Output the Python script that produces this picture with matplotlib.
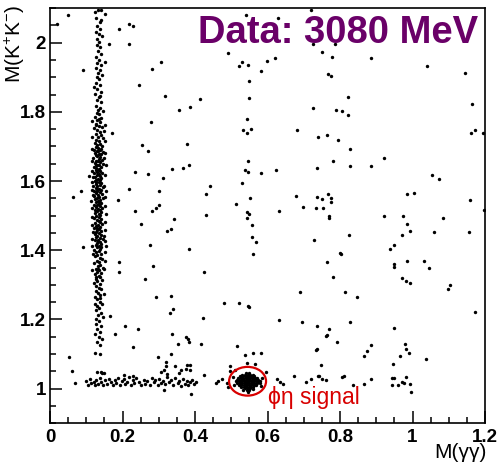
import matplotlib
matplotlib.use("Agg")
import matplotlib.pyplot as plt
from matplotlib.patches import Ellipse
from matplotlib.ticker import MultipleLocator

plt.rcParams['font.family'] = ['Liberation Sans', 'DejaVu Sans']
plt.rcParams['mathtext.fontset'] = 'custom'
plt.rcParams['mathtext.rm'] = 'Liberation Sans'
plt.rcParams['mathtext.it'] = 'Liberation Sans:italic'

# %% data: (M(gg), M(KK)) pairs
# pi0 band
pi0_band = [
    (0.133,2.095),(0.140,2.094),(0.128,2.072),(0.141,2.066),(0.137,2.060),(0.131,2.048),(0.139,2.040),
    (0.127,2.032),(0.134,2.025),(0.144,2.018),(0.130,2.009),(0.136,2.003),(0.152,2.082),(0.125,2.088),
    (0.129,1.994),(0.138,1.987),(0.133,1.975),(0.142,1.968),(0.127,1.958),(0.135,1.951),(0.131,1.942),
    (0.140,1.936),(0.126,1.928),(0.137,1.921),(0.132,1.913),(0.144,1.907),(0.129,1.902),(0.151,1.945),
    (0.134,1.896),(0.128,1.884),(0.139,1.877),(0.131,1.866),(0.142,1.858),(0.125,1.851),(0.136,1.843),
    (0.130,1.834),(0.141,1.827),(0.127,1.818),(0.137,1.812),(0.133,1.805),(0.145,1.801),(0.122,1.872),
    (0.138,1.847),
    (0.129,1.797),(0.136,1.793),(0.124,1.786),(0.141,1.781),(0.131,1.775),(0.138,1.771),(0.127,1.766),
    (0.134,1.760),(0.143,1.756),(0.121,1.752),(0.130,1.747),(0.137,1.742),(0.126,1.737),(0.140,1.733),
    (0.133,1.728),(0.146,1.724),(0.128,1.719),(0.135,1.715),(0.123,1.711),(0.139,1.708),(0.131,1.704),
    (0.144,1.701),(0.127,1.762),(0.135,1.779),(0.150,1.745),
    (0.126,1.698),(0.133,1.696),(0.140,1.694),(0.121,1.691),(0.137,1.689),(0.129,1.686),(0.145,1.684),
    (0.124,1.681),(0.134,1.679),(0.141,1.677),(0.127,1.674),(0.131,1.672),(0.138,1.669),(0.119,1.667),
    (0.135,1.664),(0.143,1.662),(0.128,1.659),(0.132,1.657),(0.139,1.654),(0.124,1.652),(0.147,1.650),
    (0.130,1.647),(0.136,1.645),(0.122,1.642),(0.141,1.640),(0.128,1.637),(0.134,1.635),(0.126,1.632),
    (0.139,1.629),(0.131,1.627),(0.144,1.624),(0.120,1.622),(0.135,1.619),(0.129,1.617),(0.138,1.614),
    (0.125,1.612),(0.142,1.609),(0.132,1.607),(0.127,1.604),(0.137,1.602),(0.149,1.668),(0.118,1.611),
    (0.133,1.688),(0.136,1.631),(0.128,1.646),
    (0.123,1.599),(0.134,1.597),(0.141,1.594),(0.128,1.592),(0.137,1.589),(0.119,1.587),(0.131,1.585),
    (0.145,1.582),(0.126,1.580),(0.135,1.577),(0.140,1.575),(0.122,1.572),(0.130,1.570),(0.138,1.567),
    (0.127,1.565),(0.143,1.562),(0.133,1.560),(0.120,1.557),(0.136,1.555),(0.129,1.552),(0.147,1.550),
    (0.124,1.547),(0.139,1.545),(0.132,1.542),(0.126,1.540),(0.142,1.537),(0.135,1.535),(0.121,1.532),
    (0.130,1.530),(0.138,1.527),(0.127,1.525),(0.144,1.522),(0.133,1.520),(0.123,1.517),(0.137,1.515),
    (0.129,1.512),(0.141,1.510),(0.125,1.507),(0.134,1.505),(0.139,1.502),(0.118,1.561),(0.150,1.585),
    (0.131,1.578),(0.136,1.538),(0.128,1.596),
    (0.128,1.498),(0.135,1.495),(0.122,1.492),(0.141,1.489),(0.131,1.486),(0.137,1.483),(0.125,1.480),
    (0.144,1.477),(0.133,1.474),(0.127,1.471),(0.139,1.468),(0.120,1.465),(0.134,1.462),(0.130,1.459),
    (0.142,1.456),(0.126,1.453),(0.136,1.450),(0.123,1.447),(0.140,1.444),(0.131,1.441),(0.128,1.438),
    (0.138,1.435),(0.145,1.432),(0.124,1.429),(0.133,1.426),(0.137,1.423),(0.129,1.420),(0.142,1.417),
    (0.126,1.414),(0.135,1.411),(0.131,1.408),(0.139,1.405),(0.122,1.402),(0.136,1.485),(0.129,1.463),
    (0.148,1.442),(0.132,1.431),(0.140,1.409),
    (0.134,1.398),(0.127,1.394),(0.140,1.390),(0.131,1.386),(0.124,1.382),(0.137,1.378),(0.143,1.374),
    (0.129,1.370),(0.135,1.366),(0.121,1.362),(0.139,1.358),(0.132,1.354),(0.146,1.350),(0.126,1.346),
    (0.136,1.342),(0.130,1.338),(0.141,1.334),(0.124,1.330),(0.134,1.326),(0.138,1.322),(0.128,1.318),
    (0.144,1.314),(0.131,1.310),(0.122,1.306),(0.137,1.302),(0.152,1.369),(0.133,1.347),(0.127,1.323),
    (0.128,1.298),(0.135,1.292),(0.141,1.287),(0.126,1.281),(0.133,1.276),(0.139,1.270),(0.124,1.264),
    (0.131,1.258),(0.137,1.251),(0.143,1.245),(0.129,1.239),(0.135,1.232),(0.126,1.226),(0.140,1.219),
    (0.132,1.213),(0.146,1.207),(0.128,1.201),(0.137,1.262),(0.123,1.245),(0.150,1.273),
    (0.134,1.196),(0.127,1.188),(0.141,1.180),(0.131,1.172),(0.138,1.165),(0.125,1.158),(0.135,1.150),
    (0.143,1.143),(0.129,1.135),(0.137,1.127),(0.124,1.102),(0.138,1.101),
    (0.131,1.049),(0.140,1.048),
    # wider edge of the dense part
    (0.116,1.693),(0.153,1.681),(0.117,1.658),(0.154,1.647),(0.115,1.628),(0.152,1.618),(0.117,1.598),
    (0.155,1.571),(0.116,1.574),(0.153,1.553),(0.114,1.543),(0.151,1.528),(0.117,1.521),(0.154,1.506),
    (0.116,1.496),(0.152,1.481),(0.115,1.472),(0.153,1.458),(0.118,1.452),(0.151,1.427),(0.116,1.433),
    (0.154,1.412),(0.117,1.412),(0.152,1.396),(0.118,1.388),(0.150,1.347),(0.117,1.343),(0.116,1.728),
    (0.153,1.716),(0.115,1.774),(0.152,1.762),
]

# phi band along M(KK) ~ 1.02
phi_band = [
    (0.100,1.022),(0.104,1.012),(0.110,1.028),(0.114,1.016),(0.120,1.020),(0.124,1.010),(0.128,1.025),
    (0.133,1.014),(0.138,1.030),(0.142,1.018),(0.147,1.011),(0.152,1.024),(0.158,1.015),(0.164,1.028),
    (0.168,1.019),(0.173,1.010),(0.178,1.026),(0.183,1.017),(0.188,1.031),(0.193,1.012),(0.198,1.022),
    (0.203,1.029),(0.208,1.014),(0.213,1.020),(0.218,1.035),(0.223,1.011),(0.228,1.024),(0.232,1.016),
    (0.238,1.030),(0.246,1.018),(0.252,1.012),(0.258,1.026),(0.263,1.015),(0.268,1.021),(0.275,1.011),
    (0.280,1.030),(0.286,1.018),(0.291,1.024),(0.297,1.010),(0.302,1.028),(0.307,1.016),(0.312,1.021),
    (0.318,1.013),(0.323,1.033),(0.329,1.019),(0.335,1.025),(0.340,1.011),(0.346,1.030),(0.352,1.017),
    (0.357,1.023),(0.362,1.009),(0.367,1.027),(0.372,1.015),(0.378,1.021),(0.382,1.012),(0.387,1.018),
    (0.392,1.026),(0.398,1.014),(0.403,1.020),(0.143,1.044),(0.149,1.045),(0.205,1.039),(0.228,1.036),
    (0.306,1.048),(0.315,1.055),(0.323,1.042),(0.355,1.045),(0.375,1.058),(0.385,1.055),
    (0.497,1.052),(0.510,1.055),(0.474,1.029),(0.463,1.023),(0.457,1.017),(0.487,1.017),(0.490,1.006),
]

# phi eta signal
signal = [
    (0.540,1.046),(0.548,1.046),
    (0.530,1.041),(0.537,1.041),(0.545,1.041),(0.552,1.041),(0.559,1.041),
    (0.524,1.036),(0.531,1.036),(0.538,1.036),(0.544,1.036),(0.551,1.036),(0.557,1.036),(0.563,1.036),
    (0.519,1.031),(0.526,1.031),(0.533,1.031),(0.540,1.031),(0.546,1.031),(0.553,1.031),(0.560,1.031),
    (0.566,1.031),(0.572,1.031),
    (0.515,1.026),(0.522,1.026),(0.529,1.026),(0.536,1.026),(0.543,1.026),(0.549,1.026),(0.556,1.026),
    (0.562,1.026),(0.569,1.026),(0.575,1.026),
    (0.513,1.021),(0.520,1.021),(0.527,1.021),(0.534,1.021),(0.541,1.021),(0.547,1.021),(0.554,1.021),
    (0.560,1.021),(0.567,1.021),(0.574,1.021),(0.580,1.021),
    (0.516,1.016),(0.523,1.016),(0.530,1.016),(0.537,1.016),(0.544,1.016),(0.550,1.016),(0.557,1.016),
    (0.564,1.016),(0.571,1.016),(0.578,1.016),
    (0.520,1.011),(0.527,1.011),(0.534,1.011),(0.541,1.011),(0.548,1.011),(0.555,1.011),(0.562,1.011),
    (0.569,1.011),
    (0.528,1.006),(0.536,1.006),(0.543,1.006),(0.551,1.006),(0.559,1.006),
    (0.538,1.001),(0.546,1.001),(0.553,1.001),
    (0.544,0.996),(0.549,0.996),(0.546,0.990),
    (0.505,1.035),(0.508,1.012),(0.585,1.030),(0.583,1.008),(0.532,0.995),(0.560,0.998),
]

# everything else
background = [
    (0.541,2.079),(0.630,2.071),(0.719,2.094),(0.726,1.995),(0.786,1.997),(0.751,1.974),(0.777,1.958),
    (0.886,1.956),(0.621,1.956),(0.598,1.946),(0.529,1.944),(0.546,1.935),(0.582,1.918),(0.768,1.910),
    (0.775,1.903),(1.039,1.931),(1.146,1.913),(0.550,1.889),(0.549,1.839),(0.821,1.843),(0.726,1.811),
    (0.788,1.806),(0.805,1.802),(0.821,1.790),(1.164,1.824),(0.544,1.779),(0.532,1.747),(0.543,1.739),
    (0.554,1.751),(0.680,1.747),(0.740,1.728),(0.765,1.732),(0.794,1.720),(0.827,1.694),(1.162,1.738),
    (1.173,1.748),(1.195,1.740),(0.545,1.659),(0.922,1.667),(0.782,1.659),(0.538,1.632),(0.546,1.627),
    (0.581,1.624),(0.623,1.633),(0.737,1.638),(0.828,1.644),(0.886,1.644),(1.055,1.618),(1.074,1.607),
    (0.529,1.594),(0.551,1.552),(0.678,1.558),(0.737,1.553),(0.750,1.548),(0.768,1.564),(0.776,1.552),
    (0.775,1.540),(0.986,1.563),(1.003,1.566),(1.160,1.544),(0.699,1.526),(0.733,1.523),(0.754,1.523),
    (0.632,1.513),(0.544,1.510),(0.550,1.506),(0.543,1.494),(0.771,1.498),(0.770,1.493),(0.920,1.498),
    (0.975,1.499),(1.198,1.515),(1.084,1.493),(0.556,1.472),(0.986,1.475),
    (0.556,1.438),(0.569,1.424),(0.559,1.390),(0.728,1.431),(0.826,1.443),(0.972,1.443),(0.994,1.455),
    (1.058,1.453),(1.156,1.454),(0.950,1.416),(0.939,1.404),(0.800,1.392),(0.802,1.390),(0.950,1.359),
    (0.949,1.352),(0.984,1.368),(1.031,1.369),(1.046,1.349),(0.765,1.367),(0.782,1.323),(0.972,1.320),
    (0.981,1.311),(0.994,1.305),(1.103,1.301),(1.097,1.287),(0.691,1.280),(0.813,1.278),(0.846,1.266),
    (0.547,1.240),(0.548,1.235),(1.172,1.221),(0.632,1.199),(0.696,1.193),(0.827,1.193),(0.736,1.180),
    (0.770,1.172),(0.763,1.155),(0.761,1.151),(0.791,1.134),(0.949,1.175),(0.978,1.129),(0.982,1.115),
    (0.991,1.103),(0.886,1.127),(0.874,1.110),(0.866,1.094),(0.736,1.115),(0.733,1.112),(0.966,1.094),
    (1.038,1.086),(0.947,1.071),(0.748,1.068),(0.561,1.104),(0.583,1.104),(0.538,1.098),(0.543,1.074),
    (0.566,1.072),(0.596,1.047),(0.625,1.029),(0.634,1.018),(0.644,1.014),(0.673,1.037),(0.705,1.020),
    (0.719,1.029),(0.738,1.037),(0.743,1.038),(0.750,1.028),(0.761,1.024),(0.806,1.035),(0.810,1.038),
    (0.837,1.011),(0.866,1.014),(0.886,1.029),(0.943,1.032),(0.950,1.032),(0.943,1.012),(0.959,1.010),
    (0.971,1.020),(0.977,1.016),(0.983,1.035),(0.994,1.014),(0.996,0.989),
    (0.020,2.054),(0.049,2.079),(0.190,2.038),(0.219,2.054),(0.230,2.049),(0.164,1.997),(0.218,1.995),
    (0.092,1.921),(0.281,1.925),(0.305,1.943),(0.246,1.878),(0.317,1.847),(0.414,1.836),(0.356,1.806),
    (0.385,1.814),(0.492,1.969),(0.522,1.933),(0.170,1.739),(0.279,1.772),(0.253,1.704),(0.271,1.687),
    (0.379,1.707),(0.337,1.635),(0.368,1.638),(0.384,1.645),(0.234,1.626),(0.270,1.620),(0.313,1.609),
    (0.108,1.616),(0.085,1.571),(0.064,1.555),(0.219,1.578),(0.302,1.571),(0.441,1.587),(0.431,1.563),
    (0.188,1.544),(0.234,1.513),(0.282,1.513),(0.292,1.523),(0.302,1.530),(0.430,1.502),(0.514,1.533),
    (0.343,1.491),(0.250,1.475),(0.335,1.462),
    (0.090,1.410),(0.275,1.416),(0.384,1.404),(0.324,1.455),(0.190,1.366),(0.189,1.338),(0.285,1.355),
    (0.425,1.338),(0.262,1.316),(0.292,1.266),(0.334,1.267),(0.338,1.229),(0.330,1.220),(0.480,1.247),
    (0.521,1.249),(0.422,1.203),(0.165,1.210),(0.208,1.182),(0.243,1.173),(0.180,1.157),(0.337,1.157),
    (0.376,1.149),(0.382,1.145),(0.353,1.130),(0.384,1.134),(0.417,1.130),(0.228,1.120),(0.516,1.124),
    (0.053,1.093),(0.298,1.091),(0.333,1.099),(0.320,1.077),(0.321,1.066),(0.346,1.066),(0.377,1.069),
    (0.387,1.068),(0.361,1.053),(0.426,1.041),(0.497,1.067),(0.062,1.050),(0.070,1.016),(0.389,0.985),
    (0.314,0.995),
]

x_ticks = [0, 0.2, 0.4, 0.6, 0.8, 1.0, 1.2]
x_ticklabels = ["0", "0.2", "0.4", "0.6", "0.8", "1", "1.2"]
y_ticks = [1.0, 1.2, 1.4, 1.6, 1.8, 2.0]
y_ticklabels = ["1", "1.2", "1.4", "1.6", "1.8", "2"]

# %%
fig = plt.figure(figsize=(4.99, 4.63), dpi=100)
ax = fig.add_axes([50/499, 1 - 423.3/463, 435/499, 415.3/463])

for group in (background, phi_band, pi0_band, signal):
    gx, gy = zip(*group)
    ax.scatter(gx, gy, s=6, c="black", marker="o", linewidths=0)

ax.add_patch(Ellipse((0.545, 1.0215), width=0.102, height=0.083,
                     fill=False, ec="#d80000", lw=1.6))
ax.text(0.601, 0.957, "ϕη signal", color="#d80000", fontsize=16.5, va="baseline")

ax.set_xlim(0, 1.2)
ax.set_ylim(0.9, 2.1)
ax.set_xticks(x_ticks, x_ticklabels)
ax.set_yticks(y_ticks, y_ticklabels)
ax.xaxis.set_minor_locator(MultipleLocator(0.05))
ax.yaxis.set_minor_locator(MultipleLocator(0.05))
ax.tick_params(which="both", direction="in", top=False, right=False, width=1.1)
ax.tick_params(which="major", length=8.5)
ax.tick_params(which="minor", length=4.5)
ax.tick_params(axis="x", labelsize=13.5, pad=4)
ax.tick_params(axis="y", labelsize=13.5, pad=3)
for lab in ax.get_xticklabels() + ax.get_yticklabels():
    lab.set_fontweight("bold")
for sp in ax.spines.values():
    sp.set_linewidth(1.2)

fig.text(487/499, 1 - 458/463, "M(γγ)", ha="right", va="baseline", fontsize=15)
fig.text(15/499, 1 - 5/463, r"M(K$^{+}$K$^{-}$)", rotation=90, ha="center", va="top", fontsize=15)
fig.text(478/499, 1 - 43/463, "Data: 3080 MeV", ha="right", va="baseline",
         fontsize=27.5, fontweight="bold", color="#6a0068")

plt.savefig("out.png", dpi=100)
